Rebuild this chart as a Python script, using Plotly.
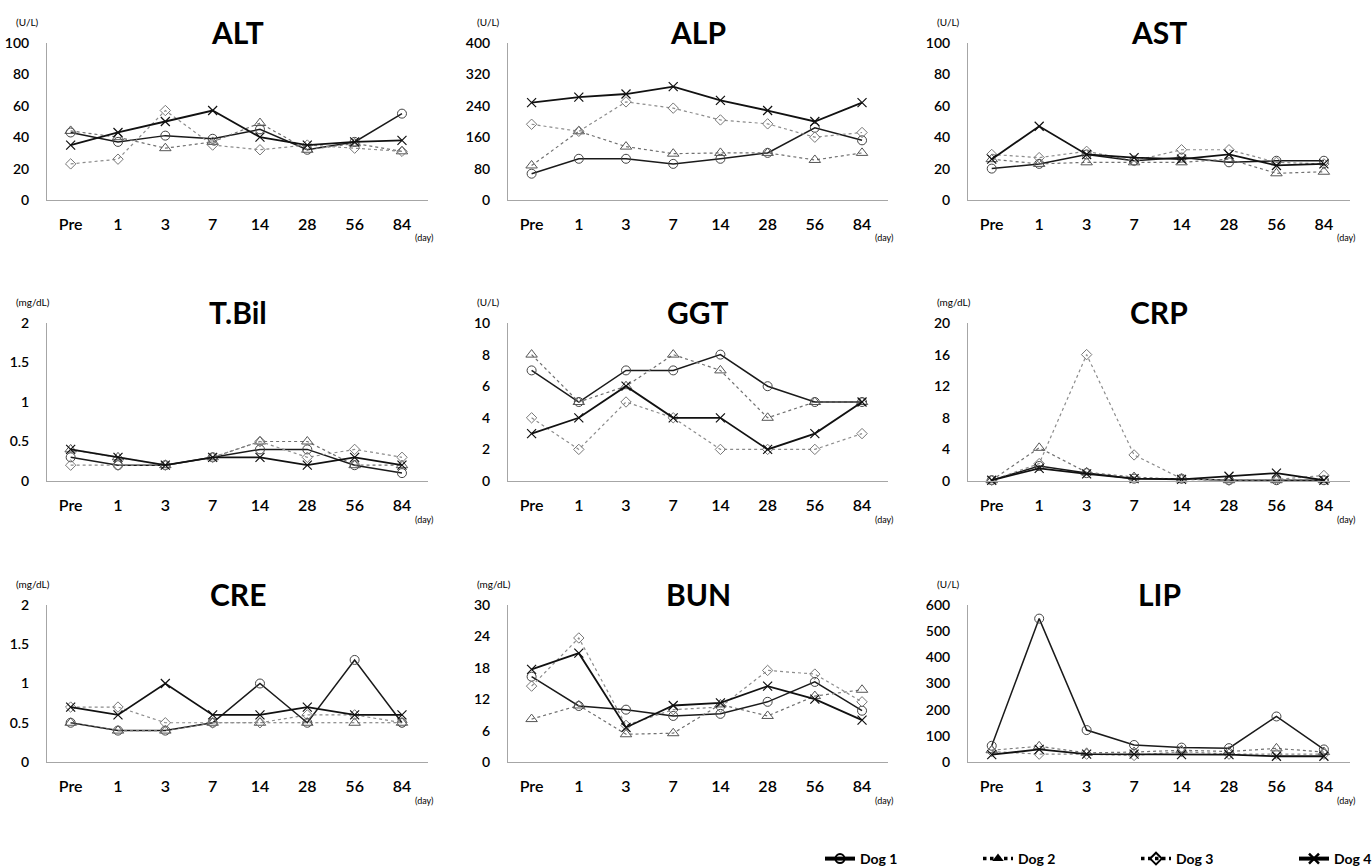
import plotly.graph_objects as go

# ---------------- data ----------------
days = ["Pre", "1", "3", "7", "14", "28", "56", "84"]
dog_names = ["Dog 1", "Dog 2", "Dog 3", "Dog 4"]

alt_dog1 = [43, 37, 41, 39, 45, 32, 37, 55]
alt_dog2 = [44, 40, 33, 37, 49, 32, 36, 31]
alt_dog3 = [23, 26, 57, 35, 32, 35, 33, 31]
alt_dog4 = [35, 43, 50, 57, 40, 35, 37, 38]

alp_dog1 = [67, 105, 105, 92, 105, 120, 184, 152]
alp_dog2 = [88, 175, 136, 118, 120, 120, 102, 120]
alp_dog3 = [193, 175, 250, 234, 204, 194, 160, 172]
alp_dog4 = [248, 262, 270, 289, 254, 228, 200, 248]

ast_dog1 = [20, 23, 29, 25, 27, 24, 25, 25]
ast_dog2 = [26, 23, 24, 24, 24, 26, 17, 18]
ast_dog3 = [29, 27, 31, 25, 32, 32, 24, 23]
ast_dog4 = [26, 47, 29, 27, 26, 29, 22, 23]

tbil_dog1 = [0.3, 0.2, 0.2, 0.3, 0.4, 0.4, 0.2, 0.1]
tbil_dog2 = [0.4, 0.3, 0.2, 0.3, 0.5, 0.5, 0.2, 0.2]
tbil_dog3 = [0.2, 0.2, 0.2, 0.3, 0.5, 0.3, 0.4, 0.3]
tbil_dog4 = [0.4, 0.3, 0.2, 0.3, 0.3, 0.2, 0.3, 0.2]

ggt_dog1 = [7, 5, 7, 7, 8, 6, 5, 5]
ggt_dog2 = [8, 5, 6, 8, 7, 4, 5, 5]
ggt_dog3 = [4, 2, 5, 4, 2, 2, 2, 3]
ggt_dog4 = [3, 4, 6, 4, 4, 2, 3, 5]

crp_dog1 = [0.1, 1.9, 1.0, 0.3, 0.3, 0.1, 0.1, 0.1]
crp_dog2 = [0.1, 4.2, 1.1, 0.5, 0.2, 0.1, 0.1, 0.1]
crp_dog3 = [0.1, 2.2, 16.0, 3.3, 0.3, 0.1, 0.2, 0.7]
crp_dog4 = [0.1, 1.6, 0.9, 0.3, 0.2, 0.6, 1.0, 0.1]

cre_dog1 = [0.5, 0.4, 0.4, 0.5, 1.0, 0.5, 1.3, 0.5]
cre_dog2 = [0.5, 0.4, 0.4, 0.5, 0.5, 0.5, 0.5, 0.5]
cre_dog3 = [0.7, 0.7, 0.5, 0.5, 0.5, 0.6, 0.6, 0.5]
cre_dog4 = [0.7, 0.6, 1.0, 0.6, 0.6, 0.7, 0.6, 0.6]

bun_dog1 = [16.3, 10.7, 10.0, 8.8, 9.2, 11.5, 15.3, 9.8]
bun_dog2 = [8.2, 10.8, 5.3, 5.5, 11.0, 8.8, 12.6, 13.8]
bun_dog3 = [14.5, 23.7, 7.0, 10.0, 10.5, 17.5, 16.8, 11.5]
bun_dog4 = [17.7, 20.8, 6.6, 10.8, 11.3, 14.5, 12.0, 8.0]

lip_dog1 = [62, 548, 122, 65, 55, 53, 174, 48]
lip_dog2 = [45, 60, 35, 38, 45, 40, 52, 38]
lip_dog3 = [40, 30, 30, 25, 40, 30, 30, 30]
lip_dog4 = [28, 48, 30, 30, 28, 28, 22, 22]

panel_titles = ["ALT", "ALP", "AST", "T.Bil", "GGT", "CRP", "CRE", "BUN", "LIP"]
panel_units = ["(U/L)", "(U/L)", "(U/L)", "(mg/dL)", "(U/L)", "(mg/dL)", "(mg/dL)", "(mg/dL)", "(U/L)"]
panel_ymax = [100, 400, 100, 2, 10, 20, 2, 30, 600]
panel_dtick = [20, 80, 20, 0.5, 2, 4, 0.5, 6, 100]
panel_data = [
    [alt_dog1, alt_dog2, alt_dog3, alt_dog4],
    [alp_dog1, alp_dog2, alp_dog3, alp_dog4],
    [ast_dog1, ast_dog2, ast_dog3, ast_dog4],
    [tbil_dog1, tbil_dog2, tbil_dog3, tbil_dog4],
    [ggt_dog1, ggt_dog2, ggt_dog3, ggt_dog4],
    [crp_dog1, crp_dog2, crp_dog3, crp_dog4],
    [cre_dog1, cre_dog2, cre_dog3, cre_dog4],
    [bun_dog1, bun_dog2, bun_dog3, bun_dog4],
    [lip_dog1, lip_dog2, lip_dog3, lip_dog4],
]

# ---------------- styles ----------------
W, H = 1372, 868
FONT = "Lato"
styles = [
    dict(line=dict(color="#1a1a1a", width=1.5, dash="solid"),
         marker=dict(symbol="circle-open", size=9, color="#444444", line=dict(width=1))),
    dict(line=dict(color="#707070", width=1.2, dash="dot"),
         marker=dict(symbol="triangle-up-open", size=10, color="#555555", line=dict(width=1))),
    dict(line=dict(color="#8c8c8c", width=1.2, dash="dot"),
         marker=dict(symbol="diamond-open", size=8, color="#777777", line=dict(width=1))),
    dict(line=dict(color="#111111", width=1.8, dash="solid"),
         marker=dict(symbol="x-thin-open", size=9, color="#111111", line=dict(width=1.2))),
]
legend_styles = [
    dict(line=dict(color="#000000", width=4, dash="solid"),
         marker=dict(symbol="circle-open", size=9, color="#000000", line=dict(width=2))),
    dict(line=dict(color="#000000", width=3.5, dash="dot"),
         marker=dict(symbol="triangle-up", size=10, color="#000000")),
    dict(line=dict(color="#000000", width=3.5, dash="dot"),
         marker=dict(symbol="diamond-open", size=9, color="#000000", line=dict(width=2))),
    dict(line=dict(color="#000000", width=4, dash="solid"),
         marker=dict(symbol="x-thin-open", size=10, color="#000000", line=dict(width=2.5))),
]

col_px = [(47, 428), (508, 888), (968, 1350)]
row_px = [(43, 200), (323, 481), (605, 762)]

fig = go.Figure()
layout = dict(
    width=W, height=H,
    margin=dict(l=0, r=0, t=0, b=0, autoexpand=False),
    paper_bgcolor="white", plot_bgcolor="white",
    showlegend=True,
    font=dict(family=FONT, color="#000000"),
)
annotations = []

for i in range(9):
    r, c = divmod(i, 3)
    ax = "" if i == 0 else str(i + 1)
    x0, x1 = col_px[c]
    y0, y1 = row_px[r]
    layout["xaxis" + ax] = dict(
        domain=[x0 / W, x1 / W], anchor="y" + ax, type="category",
        categoryorder="array", categoryarray=days,
        range=[-0.5, 7.55], showgrid=False, zeroline=False,
        showline=True, linecolor="#a6a6a6", linewidth=1, ticks="",
        tickfont=dict(family=FONT, size=16, color="#000000", weight=600),
        ticklabelstandoff=10,
    )
    layout["yaxis" + ax] = dict(
        domain=[1 - y1 / H, 1 - y0 / H], anchor="x" + ax,
        range=[0, panel_ymax[i]], tick0=0, dtick=panel_dtick[i],
        showgrid=False, zeroline=False,
        showline=True, linecolor="#a6a6a6", linewidth=1, ticks="",
        tickfont=dict(family=FONT, size=14, color="#000000", weight=600),
        ticklabelstandoff=14,
    )
    for d in range(4):
        fig.add_trace(go.Scatter(
            x=days, y=panel_data[i][d], mode="lines+markers",
            xaxis="x" + ax, yaxis="y" + ax, showlegend=False,
            cliponaxis=False, name=dog_names[d], **styles[d]))
    # title
    annotations.append(dict(
        text="<b>" + panel_titles[i] + "</b>", xref="paper", yref="paper",
        x=(x0 + x1) / 2 / W, y=1 - (y0 - 11) / H, showarrow=False,
        xanchor="center", yanchor="middle",
        font=dict(family=FONT, size=30, color="#000000")))
    # units
    annotations.append(dict(
        text=panel_units[i], xref="paper", yref="paper",
        x=(x0 - 33) / W, y=1 - (y0 - 21) / H, showarrow=False,
        xanchor="left", yanchor="middle",
        font=dict(family=FONT, size=10, color="#000000")))
    # day
    annotations.append(dict(
        text="(day)", xref="paper", yref="paper",
        x=(x1 - 4) / W, y=1 - (y1 + 38) / H, showarrow=False,
        xanchor="center", yanchor="middle",
        font=dict(family=FONT, size=9, color="#000000")))

# legend-only entries
for d in range(4):
    fig.add_trace(go.Scatter(
        x=[None], y=[None], mode="lines+markers", name="<b>" + dog_names[d] + "</b>",
        xaxis="x", yaxis="y", showlegend=True, **legend_styles[d]))

layout["legend"] = dict(
    orientation="h", x=820 / W, xanchor="left", y=(H - 859) / H, yanchor="middle",
    font=dict(family=FONT, size=14, color="#000000"),
    entrywidth=113, entrywidthmode="pixels",
    tracegroupgap=0, bgcolor="rgba(0,0,0,0)",
)
layout["annotations"] = annotations
fig.update_layout(**layout)
fig.write_html(
    "out.html",
    config={"displayModeBar": False},
    post_script="document.body.style.margin='0';document.body.style.overflow='hidden';",
)
